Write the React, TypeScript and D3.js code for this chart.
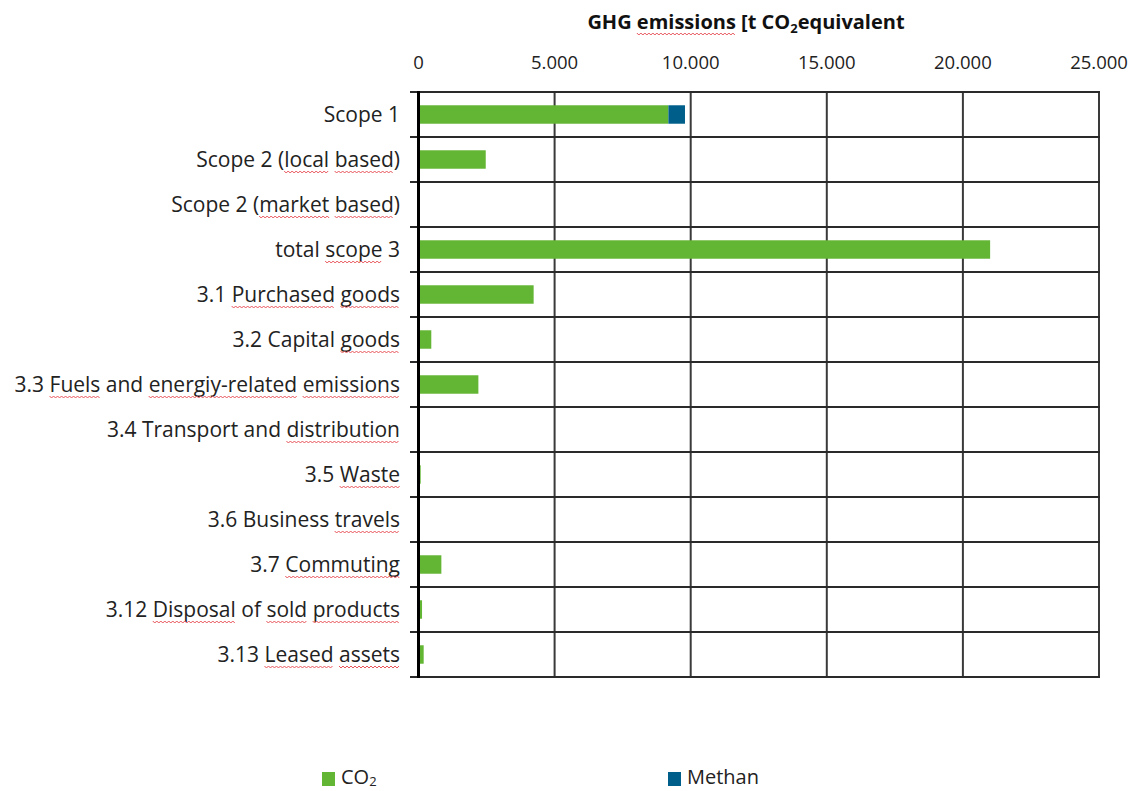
import React, { useEffect, useRef } from "react";
import * as d3 from "d3";

const categories = [
  "Scope 1",
  "Scope 2 (local based)",
  "Scope 2 (market based)",
  "total scope 3",
  "3.1 Purchased goods",
  "3.2 Capital goods",
  "3.3 Fuels and energiy-related emissions",
  "3.4 Transport and distribution",
  "3.5 Waste",
  "3.6 Business travels",
  "3.7 Commuting",
  "3.12 Disposal of sold products",
  "3.13 Leased assets",
];
const co2Values = [9180, 2470, 0, 21000, 4230, 470, 2200, 0, 80, 0, 840, 130, 190];
const methaneValues = [610, 0, 0, 0, 0, 0, 0, 0, 0, 0, 0, 0, 0];
const tickValues = [0, 5000, 10000, 15000, 20000, 25000];
const tickLabels = ["0", "5.000", "10.000", "15.000", "20.000", "25.000"];
const misspelled: string[][] = [
  [],
  ["local", "based"],
  ["market", "based"],
  ["scope"],
  ["Purchased", "goods"],
  ["goods"],
  ["Fuels", "energiy-related", "emissions"],
  ["distribution"],
  ["Waste"],
  ["travels"],
  ["Commuting"],
  ["Disposal", "sold", "products"],
  ["Leased", "assets"],
];

const FONT = "'Open Sans', Lato, sans-serif";
const GREEN = "#63b633";
const BLUE = "#005f8a";

function squiggle(x0: number, x1: number, y: number) {
  const pts: [number, number][] = [];
  let up = true;
  for (let x = x0; x <= x1; x += 2) {
    pts.push([x, up ? y - 1 : y + 1]);
    up = !up;
  }
  return d3.line()(pts) || "";
}

export default function App() {
  const ref = useRef<SVGSVGElement>(null);
  useEffect(() => {
    const svg = d3.select(ref.current);
    svg.selectAll("*").remove();
    const x = d3.scaleLinear().domain([0, 25000]).range([418.5, 1099]);
    const y = d3.scaleBand().domain(categories).range([92, 677]).padding(0);
    const bh = y.bandwidth() * 0.41;

    // gridlines vertical
    svg
      .append("g")
      .selectAll("line")
      .data(tickValues.slice(1))
      .join("line")
      .attr("x1", (d) => x(d))
      .attr("x2", (d) => x(d))
      .attr("y1", 92)
      .attr("y2", 677)
      .attr("stroke", "#3a3a3a")
      .attr("stroke-width", 2);
    // horizontal row lines
    const bounds = categories.map((c) => y(c) as number).concat([677]);
    svg
      .append("g")
      .selectAll("line")
      .data(bounds)
      .join("line")
      .attr("x1", 410)
      .attr("x2", x(25000) + 1)
      .attr("y1", (d) => d)
      .attr("y2", (d) => d)
      .attr("stroke", "#2a2a2a")
      .attr("stroke-width", 2);

    // bars
    const g = svg.append("g");
    g.selectAll("rect.co2")
      .data(categories)
      .join("rect")
      .attr("class", "co2")
      .attr("x", x(0))
      .attr("y", (d) => (y(d) as number) + (y.bandwidth() - bh) / 2)
      .attr("width", (_d, i) => x(co2Values[i]) - x(0))
      .attr("height", bh)
      .attr("fill", GREEN);
    g.selectAll("rect.ch4")
      .data(categories)
      .join("rect")
      .attr("class", "ch4")
      .attr("x", (_d, i) => x(co2Values[i]))
      .attr("y", (d) => (y(d) as number) + (y.bandwidth() - bh) / 2)
      .attr("width", (_d, i) => x(co2Values[i] + methaneValues[i]) - x(co2Values[i]))
      .attr("height", bh)
      .attr("fill", BLUE);

    // left axis
    svg
      .append("line")
      .attr("x1", x(0))
      .attr("x2", x(0))
      .attr("y1", 91)
      .attr("y2", 678)
      .attr("stroke", "#000")
      .attr("stroke-width", 3);

    // tick labels
    svg
      .append("g")
      .selectAll("text")
      .data(tickValues)
      .join("text")
      .attr("x", (d) => x(d))
      .attr("y", 69)
      .attr("text-anchor", "middle")
      .attr("font-family", FONT)
      .attr("font-size", 18.5)
      .attr("fill", "#222")
      .text((_d, i) => tickLabels[i]);

    // title
    const title = svg
      .append("text")
      .attr("x", 746)
      .attr("y", 29)
      .attr("text-anchor", "middle")
      .attr("font-family", FONT)
      .attr("font-size", 20)
      .attr("font-weight", "bold")
      .attr("fill", "#111");
    title.append("tspan").text("GHG emissions [t CO");
    title.append("tspan").attr("font-size", 13).attr("dy", 4).text("2");
    title.append("tspan").attr("dy", -4).text("equivalent");
    {
      const node = title.node() as SVGTextElement;
      const full = "GHG emissions [t CO2equivalent";
      const s = full.indexOf("emissions");
      const sx = node.getStartPositionOfChar(s).x;
      const ex = node.getEndPositionOfChar(s + 8).x;
      svg
        .append("path")
        .attr("d", squiggle(sx, ex, 34))
        .attr("fill", "none")
        .attr("stroke", "#e8545a")
        .attr("stroke-width", 1);
    }

    // category labels
    const labels = svg
      .append("g")
      .selectAll("text")
      .data(categories)
      .join("text")
      .attr("x", 400)
      .attr("y", (d) => (y(d) as number) + y.bandwidth() / 2 + 7.5)
      .attr("text-anchor", "end")
      .attr("font-family", FONT)
      .attr("font-size", 21)
      .attr("fill", "#222")
      .text((d) => d);
    labels.each(function (d, i) {
      const node = this as SVGTextElement;
      const by = (y(d) as number) + y.bandwidth() / 2 + 12.5;
      misspelled[i].forEach((w) => {
        const s = d.indexOf(w);
        if (s < 0) return;
        const sx = node.getStartPositionOfChar(s).x;
        const ex = node.getEndPositionOfChar(s + w.length - 1).x;
        svg
          .append("path")
          .attr("d", squiggle(sx, ex, by))
          .attr("fill", "none")
          .attr("stroke", "#e8545a")
          .attr("stroke-width", 1);
      });
    });

    // legend
    const legend = [
      { label: "CO", sub: "2", color: GREEN, x: 322 },
      { label: "Methan", sub: "", color: BLUE, x: 668 },
    ];
    legend.forEach((l) => {
      svg
        .append("rect")
        .attr("x", l.x)
        .attr("y", 772)
        .attr("width", 13)
        .attr("height", 14)
        .attr("fill", l.color);
      const t = svg
        .append("text")
        .attr("x", l.x + 19)
        .attr("y", 784)
        .attr("font-family", FONT)
        .attr("font-size", 20)
        .attr("fill", "#222");
      t.append("tspan").text(l.label);
      if (l.sub) t.append("tspan").attr("font-size", 13).attr("dy", 2).text(l.sub);
    });
  }, []);
  return (
    <svg
      ref={ref}
      width={1138}
      height={791}
      style={{ position: "absolute", left: 0, top: 0, background: "#fff" }}
    />
  );
}
